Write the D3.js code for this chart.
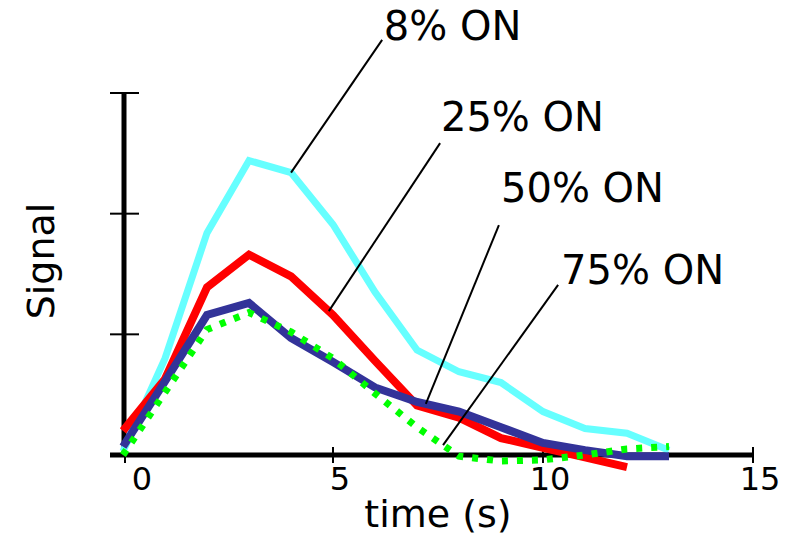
<!DOCTYPE html>
<html><head><meta charset="utf-8">
<script src="https://cdn.jsdelivr.net/npm/d3@7"></script>
<style>
html,body{margin:0;padding:0;background:#fff;}
svg text{font-family:"DejaVu Sans",sans-serif;fill:#000;}
</style></head>
<body><svg id="c" width="794" height="540"></svg>
<script>
const times = [0,1,2,3,4,5,6,7,8,9,10,11,12,13];
const on8  = [0.03,0.80,1.84,2.44,2.34,1.91,1.35,0.87,0.69,0.60,0.36,0.22,0.18,0.04];
const on25 = [0.20,0.63,1.39,1.66,1.48,1.16,0.78,0.41,0.31,0.14,0.06,-0.02,-0.10];
const on50 = [0.07,0.61,1.16,1.26,0.97,0.77,0.56,0.44,0.36,0.23,0.10,0.04,-0.01,-0.01];
const on75 = [0.00,0.52,1.04,1.18,1.02,0.80,0.51,0.23,-0.01,-0.05,-0.04,0.00,0.05,0.07];
const xTicks = [0,5,10,15];
const yTicks = [0,1,2,3];
const seriesNames = ["8% ON","25% ON","50% ON","75% ON"];
const seriesColors = ["#66FFFF","#FF0000","#333399","#00FF00"];
const anchorT = [4.0,4.9,7.21,7.62];
const labelAt = [[6.21,3.44],[7.57,2.685],[9.0,2.097],[10.43,1.417]];
const lineFrom = [[6.17,3.44],[7.55,2.585],[8.95,1.906],[10.36,1.41]];

const svg = d3.select("#c");
const x = d3.scaleLinear().domain([0,15]).range([123,753]);
const y = d3.scaleLinear().domain([0,3]).range([455,93]);
const allSeries = [on8,on25,on50,on75];

// axes
const g = svg.append("g");
g.append("line").attr("x1",110).attr("x2",x(15)).attr("y1",y(0)).attr("y2",y(0))
  .attr("stroke","#000").attr("stroke-width",5);
g.append("line").attr("x1",x(0)+1).attr("x2",x(0)+1).attr("y1",y(3)).attr("y2",y(0))
  .attr("stroke","#000").attr("stroke-width",5);
g.selectAll(".yt").data(yTicks).enter().append("line")
  .attr("x1",110).attr("x2",139).attr("y1",d=>y(d)).attr("y2",d=>y(d))
  .attr("stroke","#000").attr("stroke-width",2);
g.selectAll(".xt").data(xTicks).enter().append("line")
  .attr("x1",d=>x(d)+(d===0?2:0)).attr("x2",d=>x(d)+(d===0?2:0))
  .attr("y1",d=>y(0)-(d===0?0:8)).attr("y2",y(0)+8)
  .attr("stroke","#000").attr("stroke-width",2);
g.selectAll(".xl").data(xTicks).enter().append("text")
  .attr("x",d=>x(d)+(d===0?19:7)).attr("y",490)
  .attr("text-anchor","middle").attr("font-size",32).text(d=>d);

svg.append("text").attr("x",438).attr("y",527).attr("text-anchor","middle")
  .attr("font-size",38).text("time (s)");
svg.append("text").attr("transform","translate(54,261) rotate(-90)")
  .attr("text-anchor","middle").attr("font-size",38).text("Signal");

// lines
const line = d3.line().x((d,i)=>x(times[i])).y(d=>y(d));
allSeries.forEach((s,k)=>{
  svg.append("path").datum(s).attr("d",line)
    .attr("fill","none").attr("stroke",seriesColors[k])
    .attr("stroke-width",k===3?7:(k===0?7:8))
    .attr("stroke-linejoin","miter")
    .attr("stroke-dasharray",k===3?"6,9":null);
});

// annotations
function interp(s,t){
  const i = Math.min(Math.floor(t), s.length-2); const f = t-i;
  return s[i]*(1-f)+s[i+1]*f;
}
seriesNames.forEach((nm,k)=>{
  const ty = interp(allSeries[k],anchorT[k]);
  svg.append("line").attr("x1",x(lineFrom[k][0])).attr("y1",y(lineFrom[k][1]))
    .attr("x2",x(anchorT[k])).attr("y2",y(ty)).attr("stroke","#000").attr("stroke-width",2);
  svg.append("text").attr("x",x(labelAt[k][0])).attr("y",y(labelAt[k][1]))
    .attr("font-size",40).text(nm);
});
</script></body></html>
